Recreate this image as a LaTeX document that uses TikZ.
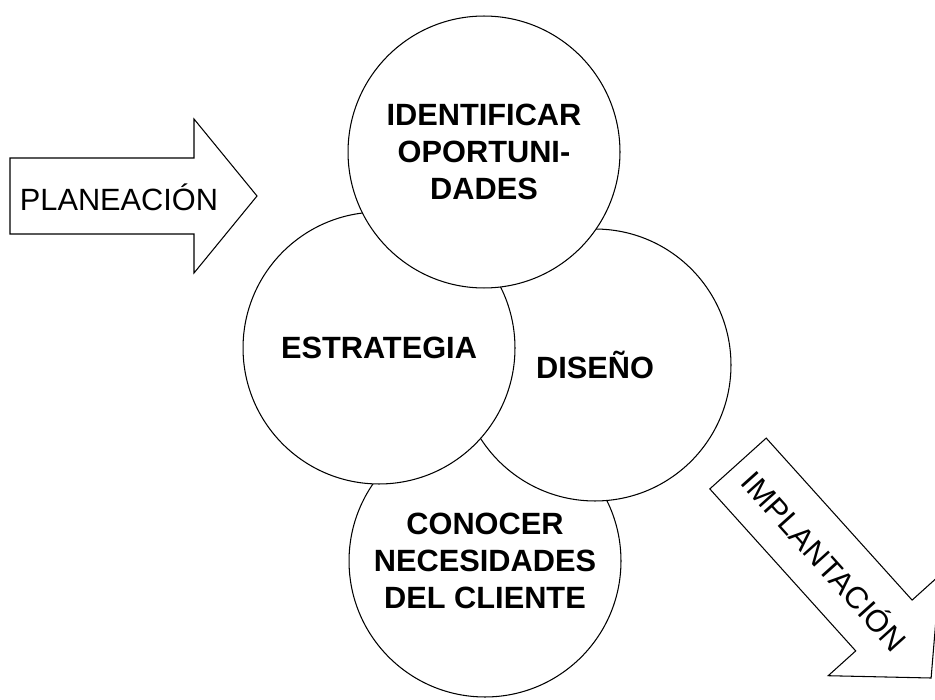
\documentclass[tikz,border=0pt]{standalone}
\usepackage{fontspec}
\setmainfont{Liberation Sans}
\usepackage{tikz}

\tikzset{
  circulo/.style={circle, draw, fill=white, line width=0.6pt, minimum size=5.44cm,
    inner sep=0pt, align=center, font=\bfseries\fontsize{17.5}{21}\selectfont},
  flecha/.style={draw, fill=white, line width=0.6pt, line join=miter},
  rotulo/.style={font=\fontsize{17.5}{21}\selectfont, inner sep=0pt}
}

\begin{document}
\begin{tikzpicture}[x=0.02cm, y=-0.02cm]
\useasboundingbox (0,0) rectangle (935,699);
\clip (0,0) rectangle (935,699);
\draw[flecha] (10,158) -- (194,158) -- (194,119) -- (257,196) -- (194,273)
  -- (194,234) -- (10,234) -- cycle;%flecha de planeación
\node[rotulo] (planeacion) at (119,197) {PLANEACIÓN};
\draw[flecha] (709.8,488.9) -- (766.2,438.1) -- (912.1,600.1) -- (939.6,575.3)
  -- (931.1,678) -- (828.2,675.7) -- (855.7,650.9) -- cycle;%flecha de implantación
\node[rotulo, rotate=-48] (implantacion) at (826,560) {IMPLANTACIÓN};
% los cuatro círculos, del fondo al frente
\node[circulo] (conocer) at (485,561) {CONOCER\\NECESIDADES\\DEL CLIENTE};
\node[circulo] (diseno) at (595,365) {DISEÑO};
\node[circulo] (estrategia) at (379,348) {ESTRATEGIA};
\node[circulo] (identificar) at (484,152) {IDENTIFICAR\\OPORTUNI-\\DADES};
\end{tikzpicture}
\end{document}
